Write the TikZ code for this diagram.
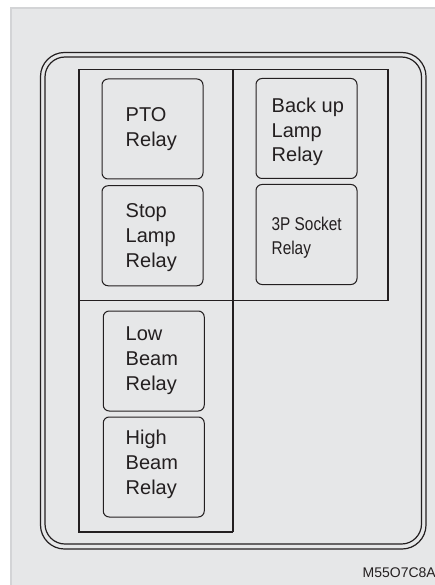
\documentclass[tikz,border=0pt]{standalone}
\usepackage{fontspec}
\setmainfont{Liberation Sans}
\newfontfamily\narrowfont[FakeStretch=0.83]{Liberation Sans}
\definecolor{panel}{HTML}{E6E7E8}
\definecolor{panedge}{HTML}{D3D4D6}
\definecolor{ink}{HTML}{231F20}
\tikzset{
  frameline/.style={draw=ink, line width=1.2pt},
  gridline/.style={draw=ink, line width=1.1pt},
  relay/.style={draw=ink, line width=1pt, rounded corners=6pt, minimum width=101pt, minimum height=100pt, inner sep=0pt},
  txt/.style={anchor=base west, inner sep=0pt, text=ink, font=\fontsize{20}{24}\selectfont},
  ntxt/.style={anchor=base west, inner sep=0pt, text=ink, font=\narrowfont\fontsize{18.5}{22}\selectfont},
  code/.style={anchor=base east, inner sep=0pt, text=ink, font=\fontsize{14}{16}\selectfont}
}
\begin{document}
\begin{tikzpicture}[x=1pt,y=-1pt]
\useasboundingbox[fill=white] (0,0) rectangle (435,585);
\fill[panel] (10,7) rectangle (435,585);
\draw[panedge, line width=2pt] (11,585) -- (11,8) -- (435,8);
% double outer frame
\draw[frameline, rounded corners=24pt] (40.5,52.5) rectangle (426,549);
\draw[frameline, rounded corners=20pt] (45,57) rectangle (421.5,544);
% inner layout grid
\coordinate (tl) at (79,69.5);
\coordinate (tr) at (388,69.5);
\coordinate (tm) at (233,69.5);
\coordinate (ml) at (79,300.7);
\coordinate (mr) at (388,300.7);
\coordinate (bl) at (79,532);
\coordinate (bm) at (233,532);
\draw[gridline] (bm) -- (bl) -- (tl) -- (tr) -- (mr) -- (ml);
\draw[gridline] (tm) -- (bm);
% relays
\node[relay] (pto)  at (152.5,129) {};
\node[relay] (stop) at (152.5,235.75) {};
\node[relay] (back) at (306.5,128.5) {};
\node[relay] (sock) at (306.5,234.5) {};
\node[relay] (low)  at (153.75,361) {};
\node[relay] (high) at (153.75,467) {};
% labels
\node[txt] (pto1) at (125.5,121.5) {PTO};
\node[txt] (pto2) at (125.5,146.5) {Relay};
\node[txt] (stop1) at (125.5,217) {Stop};
\node[txt] (stop2) at (125.5,242.5) {Lamp};
\node[txt] (stop3) at (125.5,267.5) {Relay};
\node[txt] (back1) at (271.5,112.7) {Back up};
\node[txt] (back2) at (271.5,137.3) {Lamp};
\node[txt] (back3) at (271.5,161.7) {Relay};
\node[ntxt] (sock1) at (271.5,230) {3P Socket};
\node[ntxt] (sock2) at (271.5,254.3) {Relay};
\node[txt] (low1) at (125.5,340.7) {Low};
\node[txt] (low2) at (125.5,365.7) {Beam};
\node[txt] (low3) at (125.5,390.7) {Relay};
\node[txt] (high1) at (125.5,444.5) {High};
\node[txt] (high2) at (125.5,469.5) {Beam};
\node[txt] (high3) at (125.5,494) {Relay};
\node[code] (ref) at (436,577) {M55O7C8A};
\end{tikzpicture}
\end{document}
